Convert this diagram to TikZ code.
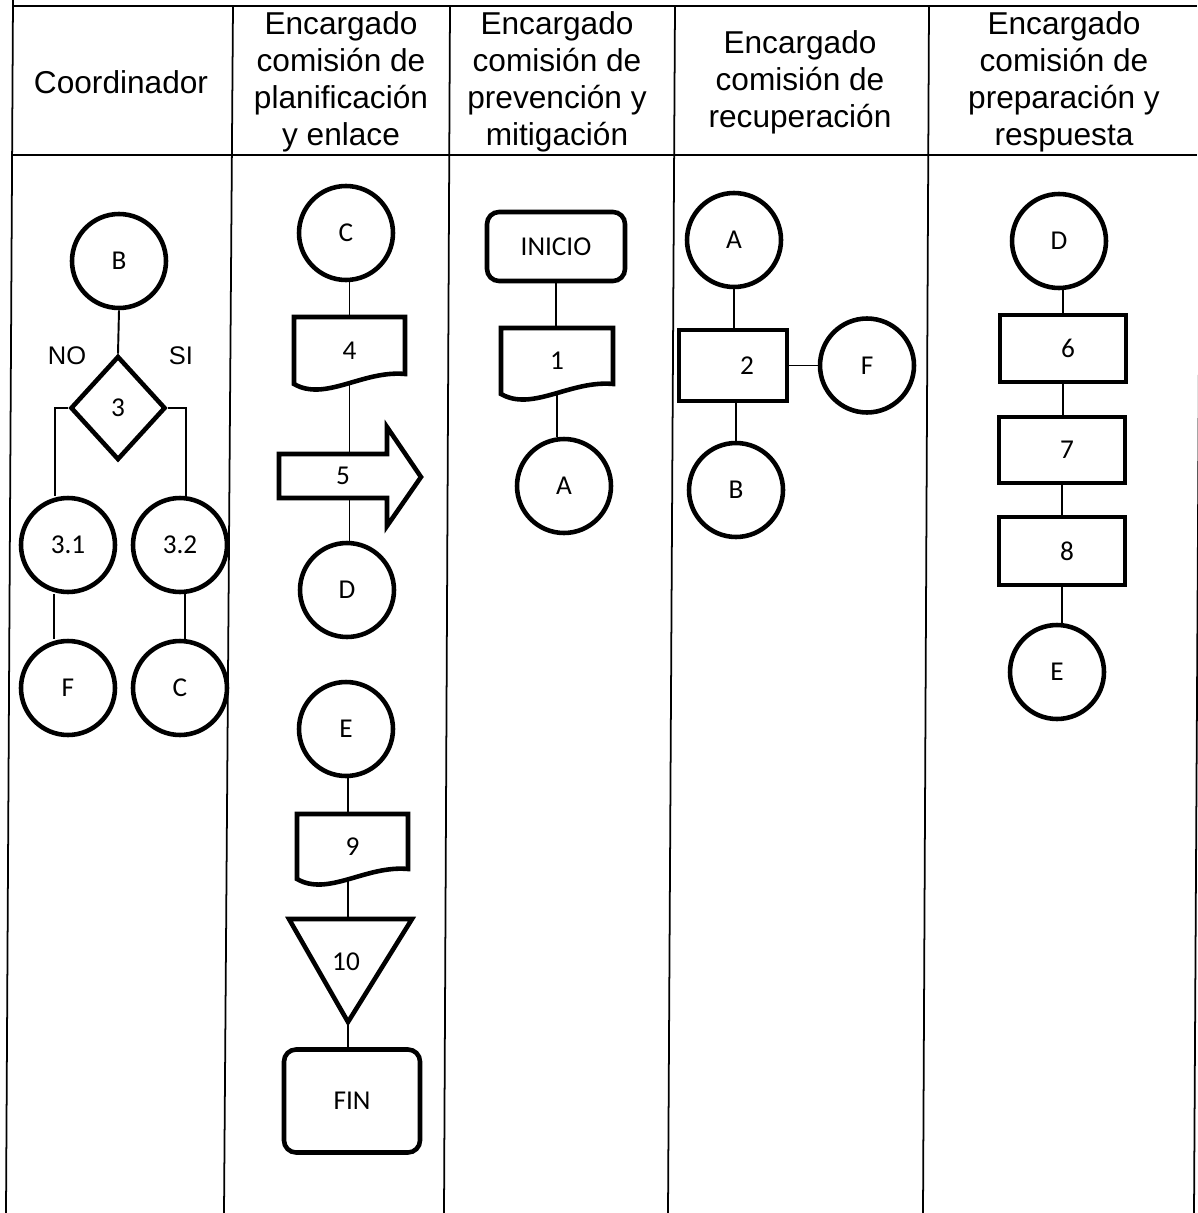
\documentclass[tikz,border=0pt]{standalone}
\usepackage{fontspec}
\setmainfont{Liberation Sans}
\newfontfamily\labfamily{Carlito}
\usetikzlibrary{shapes.geometric}
\newcommand{\labf}{\labfamily\fontsize{15.5}{18}\selectfont}
\newcommand{\hdrf}{\fontsize{18}{21}\selectfont}
\newcommand{\ynf}{\fontsize{14.5}{17}\selectfont}
\newcommand{\docpath}[4]{\draw[shp] (#1,#4) -- (#1,#3) -- (#2,#3) -- (#2,{#4-10}) .. controls ({#1+0.62*(#2-#1)},{#4-14}) and ({#1+0.28*(#2-#1)},{#4+18}) .. (#1,#4) -- cycle;}
\begin{document}
\begin{tikzpicture}[x=0.02cm,y=-0.02cm,
  tbl/.style={line width=1pt},
  conn/.style={line width=1.1pt},
  shp/.style={line width=2.6pt},
  circ/.style={circle, draw, shp, minimum size=1.88cm, inner sep=0pt, font=\labf},
  proc/.style={rectangle, draw, shp, inner sep=0pt, font=\labf},
  term/.style={rectangle, draw, shp, rounded corners=0.24cm, inner sep=0pt, font=\labf},
  ghost/.style={rectangle, inner sep=0pt, font=\labf},
  hdr/.style={align=center, font=\hdrf},
  yn/.style={font=\ynf}]
\useasboundingbox (0,0) rectangle (1197,1213);
% table
\draw[tbl] (13,0) -- (6,1213);
\draw[tbl] (233,6) -- (224,1213);
\draw[tbl] (450,6) -- (444,1213);
\draw[tbl] (675,6) -- (668,1213);
\draw[tbl] (929,6) -- (923,1213);
\draw[tbl] (1201,6) -- (1194,1213);
\draw[tbl] (13,6) -- (1197,6);
\draw[tbl] (12,155) -- (1197,155);
% headers
\node[hdr] (h1) at (121,82) {Coordinador};
\node[hdr] (h2) at (341,82) {Encargado\\comisión de\\planificación\\y enlace};
\node[hdr] (h3) at (557,82) {Encargado\\comisión de\\prevención y\\mitigación};
\node[hdr] (h4) at (800,82) {Encargado\\comisión de\\recuperación};
\node[hdr] (h5) at (1064,82) {Encargado\\comisión de\\preparación y\\respuesta};
% column 1
\node[circ] (B1) at (119,261) {B};
\node[diamond, draw, shp, minimum width=1.9cm, minimum height=2.08cm, inner sep=0pt, font=\labf] (D3) at (118,408) {3};
\node[yn] (no) at (67,356) {NO};
\node[yn] (si) at (181,356) {SI};
\node[circ] (c31) at (68,545) {3.1};
\node[circ] (c32) at (180,545) {3.2};
\node[circ] (F1) at (68,688) {F};
\node[circ] (C1) at (180,688) {C};
\draw[conn] (B1.south) -- (D3.north);
\draw[conn] (D3.west) -| ([xshift=-0.26cm]c31.north);
\draw[conn] (D3.east) -| ([xshift=0.12cm]c32.north);
\draw[conn] ([xshift=-0.28cm]c31.south) -- ([xshift=-0.28cm]F1.north);
\draw[conn] ([xshift=0.10cm]c32.south) -- ([xshift=0.10cm]C1.north);
% column 2
\node[circ] (C2) at (346,233) {C};
\docpath{294}{405}{317}{384}
\node[ghost, minimum width=2.22cm, minimum height=1.34cm] (d4) at (349.5,350.5) {4};
\draw[shp] (279,454) -- (387,454) -- (387,427) -- (421,477) -- (387,526) -- (387,498) -- (279,498) -- cycle;
\node[ghost, minimum width=2.16cm, minimum height=0.88cm] (a5) at (333,476) {\hspace*{0.4cm}5};
\node[circ] (D2) at (347,590) {D};
\node[circ] (E2) at (346,729) {E};
\docpath{297}{408}{814}{879}
\node[ghost, minimum width=2.22cm, minimum height=1.3cm] (d9) at (352.5,846.5) {9};
\draw[shp] (289,919) -- (412,919) -- (348,1022) -- cycle;
\coordinate (t10top) at (348,919);
\coordinate (t10tip) at (348,1022);
\node[ghost] (t10) at (346,962) {10};
\node[term, minimum width=2.72cm, minimum height=2.06cm] (fin) at (352,1101) {FIN};
\draw[conn] (d4.north |- C2.south) -- (d4.north);
\draw[conn] (d4.south) -- (d4.south |- a5.north);
\draw[conn] (d4.south |- a5.south) -- (d4.south |- D2.north);
\draw[conn] (E2.south -| t10top) -- (t10top |- d9.north);
\draw[conn] (t10top |- d9.south) -- (t10top);
\draw[conn] (t10tip) -- (t10tip |- fin.north);
% column 3
\node[term, minimum width=2.76cm, minimum height=1.38cm] (ini) at (556,246.5) {INICIO};
\docpath{501}{613}{328}{394}
\node[ghost, minimum width=2.24cm, minimum height=1.32cm] (d1) at (557,361) {1};
\node[circ] (A3) at (564,486) {A};
\draw[conn] (ini.south) -- (ini.south |- d1.north);
\draw[conn] (d1.south) -- (d1.south |- A3.north);
% column 4
\node[circ] (A4) at (734,240) {A};
\node[proc, minimum width=2.16cm, minimum height=1.42cm] (p2) at (733,365.5) {\hspace*{0.56cm}2};
\node[circ] (F4) at (867,365.5) {F};
\node[circ] (B4) at (736,490) {B};
\draw[conn] (A4.south) -- (A4.south |- p2.north);
\draw[conn] (p2.east) -- (p2.east -| F4.west);
\draw[conn] (B4.north |- p2.south) -- (B4.north);
% column 5
\node[circ] (D5) at (1059,241) {D};
\node[proc, minimum width=2.52cm, minimum height=1.34cm] (r6) at (1063,348.5) {\hspace*{0.2cm}6};
\node[proc, minimum width=2.52cm, minimum height=1.32cm] (r7) at (1062,450) {\hspace*{0.2cm}7};
\node[proc, minimum width=2.52cm, minimum height=1.36cm] (r8) at (1062,551) {\hspace*{0.2cm}8};
\node[circ] (E5) at (1057,672) {E};
\draw[conn] (r6.north |- D5.south) -- (r6.north);
\draw[conn] (r6.south) -- (r6.south |- r7.north);
\draw[conn] (r7.south) -- (r7.south |- r8.north);
\draw[conn] (r8.south) -- (r8.south |- E5.north);
\end{tikzpicture}
\end{document}
